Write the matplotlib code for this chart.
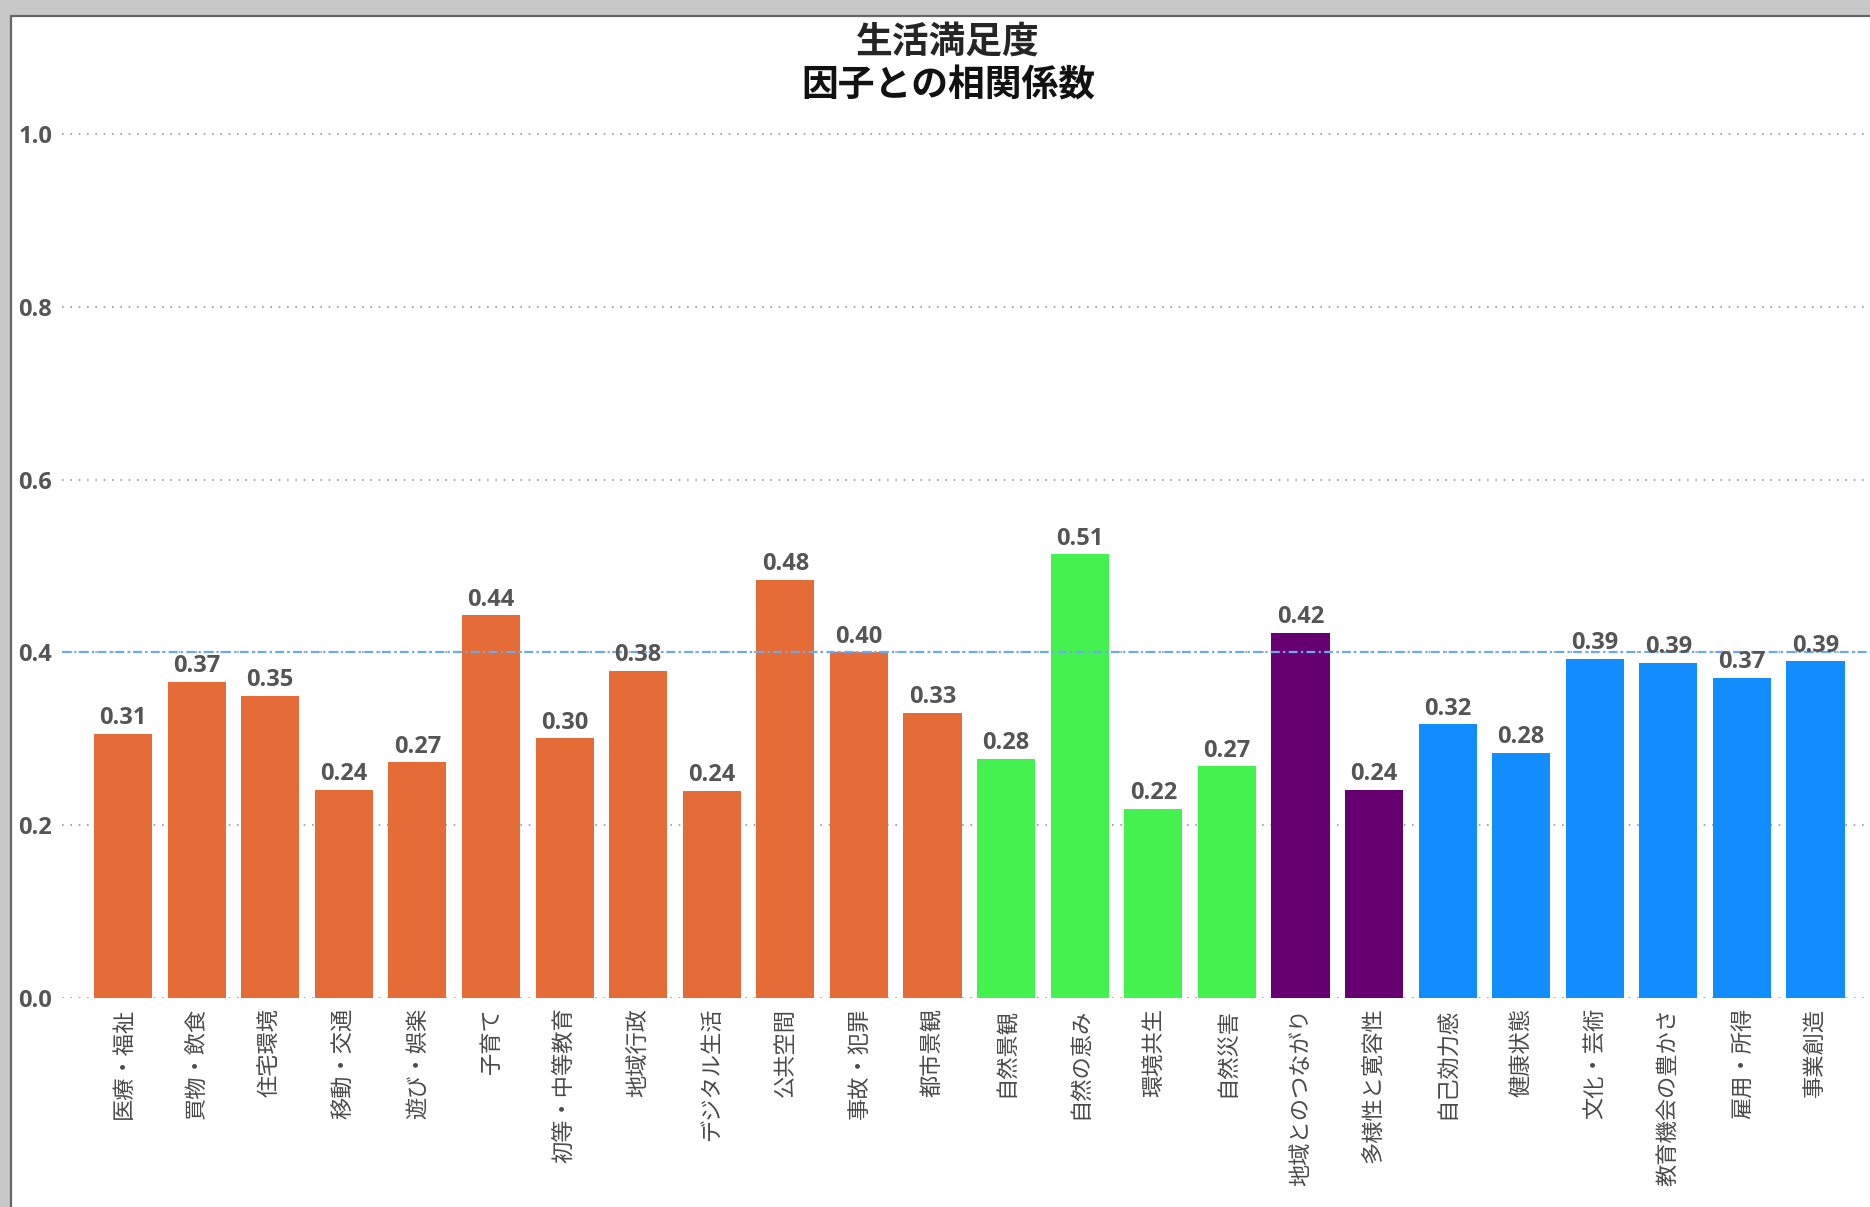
import matplotlib
matplotlib.use("Agg")
import matplotlib.pyplot as plt
from matplotlib.patches import Rectangle

plt.rcParams['font.family'] = ['Noto Sans CJK JP', 'DejaVu Sans']

# data
labels = ['医療・福祉', '買物・飲食', '住宅環境', '移動・交通', '遊び・娯楽', '子育て',
          '初等・中等教育', '地域行政', 'デジタル生活', '公共空間', '事故・犯罪', '都市景観',
          '自然景観', '自然の恵み', '環境共生', '自然災害', '地域とのつながり', '多様性と寛容性',
          '自己効力感', '健康状態', '文化・芸術', '教育機会の豊かさ', '雇用・所得', '事業創造']
values = [0.306, 0.366, 0.350, 0.241, 0.273, 0.443, 0.301, 0.379, 0.240, 0.484, 0.400, 0.330,
          0.277, 0.514, 0.219, 0.268, 0.423, 0.241, 0.317, 0.284, 0.393, 0.388, 0.371, 0.390]
groups = ['orange'] * 12 + ['green'] * 4 + ['purple'] * 2 + ['blue'] * 6
group_colors = {'orange': '#E56C37', 'green': '#44F24F', 'purple': '#660070', 'blue': '#118DFF'}
ref_value = 0.4

num_font = ['Open Sans', 'DejaVu Sans']

fig = plt.figure(figsize=(18.7, 12.07), dpi=100)
fig.patch.set_facecolor('#c8c8c8')
# white panel with dark edge (screenshot frame)
fig.patches.append(Rectangle((10.5 / 1870, -0.01), 1.02, 1 - 15.5 / 1207 + 0.01,
                             transform=fig.transFigure, facecolor='white',
                             edgecolor='#666666', linewidth=1.6, zorder=-10))

ax = fig.add_axes([62 / 1870, 1 - 998 / 1207, 1 - 62 / 1870, (998 - 91) / 1207])
ax.set_facecolor('none')
ax.set_zorder(5)

x = list(range(len(values)))
colors = [group_colors[g] for g in groups]
ax.bar(x, values, width=0.79, color=colors, zorder=2)

for xi, v in zip(x, values):
    ax.annotate(f'{v:.2f}', (xi, v), xytext=(0, 2.5), textcoords='offset points',
                ha='center', va='bottom', fontsize=17, fontweight='bold',
                color='#555555', family=num_font, zorder=4)

ax.axhline(ref_value, color='#6aaaf0', linestyle=(0, (4, 1.5, 1, 1.5)), linewidth=1.6, zorder=3)

ax.set_xlim(-0.83, 23.74)
ax.set_ylim(0, 1.05)
ax.set_yticks([0.0, 0.2, 0.4, 0.6, 0.8, 1.0])
ax.set_yticklabels([f'{t:.1f}' for t in [0.0, 0.2, 0.4, 0.6, 0.8, 1.0]])
for t in ax.get_yticklabels():
    t.set_family(num_font)
    t.set_fontweight('bold')
    t.set_fontsize(17)
    t.set_color('#555555')
ax.tick_params(axis='y', length=0, pad=7)
ax.set_xticks(x)
ax.set_xticklabels(labels, rotation=90, fontsize=16, color='#4a4a4a')
ax.tick_params(axis='x', length=0, pad=7)

ax.yaxis.grid(True, linestyle=(0, (1, 4)), color='#999999', linewidth=1.2, zorder=1)
ax.set_axisbelow(True)
for s in ax.spines.values():
    s.set_visible(False)

fig.text(0.507, 1 - 42 / 1207, '生活満足度', ha='center', va='center',
         fontsize=26.5, fontweight='bold', color='#252525')
fig.text(0.507, 1 - 86 / 1207, '因子との相関係数', ha='center', va='center',
         fontsize=26.5, fontweight='bold', color='#111111')

fig.savefig('out.png', dpi=100, facecolor=fig.get_facecolor())
